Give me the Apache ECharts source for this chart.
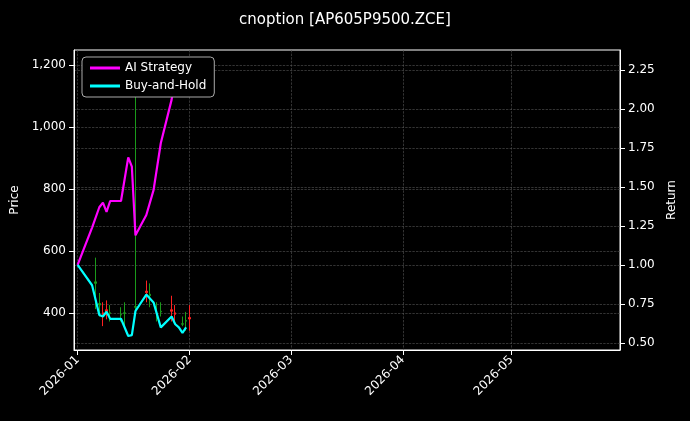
<!DOCTYPE html>
<html><head><meta charset="utf-8">
<script src="https://cdn.jsdelivr.net/npm/echarts@6/dist/echarts.min.js"></script>
<style>html,body{margin:0;background:#000}#c{width:690px;height:421px}</style>
</head><body><div id="c"></div>
<script>
const lineDates = ['2026-01-01','2026-01-05','2026-01-07','2026-01-08','2026-01-09','2026-01-10','2026-01-13','2026-01-15','2026-01-16','2026-01-17','2026-01-20','2026-01-22','2026-01-24','2026-01-27','2026-01-28','2026-01-29','2026-01-30','2026-01-31'];
const aiReturn = [1.0,1.24,1.37,1.40,1.34,1.41,1.41,1.69,1.63,1.19,1.32,1.48,1.78,2.06,2.21,2.24,2.27,2.28];
const bhReturn = [1.0,0.87,0.68,0.67,0.70,0.655,0.655,0.545,0.55,0.705,0.81,0.76,0.60,0.67,0.62,0.60,0.565,0.60];
const candleDates = ['2026-01-06','2026-01-07','2026-01-08','2026-01-09','2026-01-10','2026-01-13','2026-01-14','2026-01-17','2026-01-20','2026-01-21','2026-01-23','2026-01-24','2026-01-27','2026-01-28','2026-01-30','2026-01-31','2026-02-01'];
// [open, close, low, high]
const candleOHLC = [[500,495,412,578],[430,425,388,464],[395,400,357,434],[405,410,379,440],[400,398,372,425],[395,393,372,418],[400,398,357,434],[420,418,403,1200],[465,470,434,504],[460,455,418,495],[390,388,372,434],[405,403,388,434],[405,410,372,455],[395,400,372,425],[365,363,357,388],[375,373,342,403],[380,385,342,425]];
const priceTicks = [400,600,800,1000,1200];
const returnTicks = [0.5,0.75,1.0,1.25,1.5,1.75,2.0,2.25];

const candleData = candleDates.map((d,i)=>[d].concat(candleOHLC[i]));
const ts = s => new Date(s+'T00:00:00').getTime();
const DAY = 86400000;
const chart = echarts.init(document.getElementById('c'));
const gridLine = {show:true,lineStyle:{color:'#555',type:'dashed',width:0.6}};
chart.setOption({
  backgroundColor:'#000',
  animation:false,
  title:{text:'cnoption [AP605P9500.ZCE]',left:'center',top:8,textStyle:{color:'#fff',fontSize:15,fontWeight:'normal',fontFamily:'DejaVu Sans'}},
  legend:{left:82,top:57,orient:'vertical',itemGap:6,padding:[5,8],backgroundColor:'#000',borderColor:'#aaa',borderWidth:1,borderRadius:4,
    textStyle:{color:'#fff',fontSize:12,fontFamily:'DejaVu Sans'},itemWidth:30,itemHeight:3,icon:'rect',
    data:['AI Strategy','Buy-and-Hold']},
  grid:{left:74,right:70,top:50,bottom:71,show:true,borderColor:'#fff',borderWidth:1},
  xAxis:{type:'time',min:ts('2025-12-31'),max:ts('2026-05-31'),minInterval:28*DAY,maxInterval:31*DAY,
    axisLine:{lineStyle:{color:'#fff'}},axisTick:{show:true,lineStyle:{color:'#fff'}},
    axisLabel:{color:'#fff',rotate:45,fontSize:12,fontFamily:'DejaVu Sans',
      formatter:v=>{const d=new Date(v);return d.getFullYear()+'-'+String(d.getMonth()+1).padStart(2,'0');}},
    splitLine:gridLine},
  yAxis:[
    {type:'value',min:280,max:1248,name:'Price',nameLocation:'middle',nameGap:48,nameTextStyle:{color:'#fff',fontSize:12,fontFamily:'DejaVu Sans'},
      axisLine:{show:true,lineStyle:{color:'#fff'}},axisTick:{show:true,customValues:priceTicks,lineStyle:{color:'#fff'}},
      axisLabel:{color:'#fff',fontSize:12,fontFamily:'DejaVu Sans',customValues:priceTicks},splitLine:gridLine},
    {type:'value',min:0.455,max:2.378,name:'Return',nameLocation:'middle',nameGap:44,nameTextStyle:{color:'#fff',fontSize:12,fontFamily:'DejaVu Sans'},
      axisLine:{show:true,lineStyle:{color:'#fff'}},axisTick:{show:true,customValues:returnTicks,lineStyle:{color:'#fff'}},
      axisLabel:{color:'#fff',fontSize:12,fontFamily:'DejaVu Sans',customValues:returnTicks,formatter:v=>v.toFixed(2)},splitLine:gridLine}
  ],
  series:[
    {type:'candlestick',yAxisIndex:0,barWidth:2,data:candleData,
      itemStyle:{color:'#ff2020',color0:'#1a9a1a',borderColor:'#ff2020',borderColor0:'#1a9a1a',borderWidth:1}},
    {name:'AI Strategy',type:'line',yAxisIndex:1,data:lineDates.map((d,i)=>[d,aiReturn[i]]),symbol:'none',lineStyle:{color:'#ff00ff',width:2.2},itemStyle:{color:'#ff00ff'}},
    {name:'Buy-and-Hold',type:'line',yAxisIndex:1,data:lineDates.map((d,i)=>[d,bhReturn[i]]),symbol:'none',lineStyle:{color:'#00ffff',width:2.2},itemStyle:{color:'#00ffff'}}
  ]
});
</script></body></html>
